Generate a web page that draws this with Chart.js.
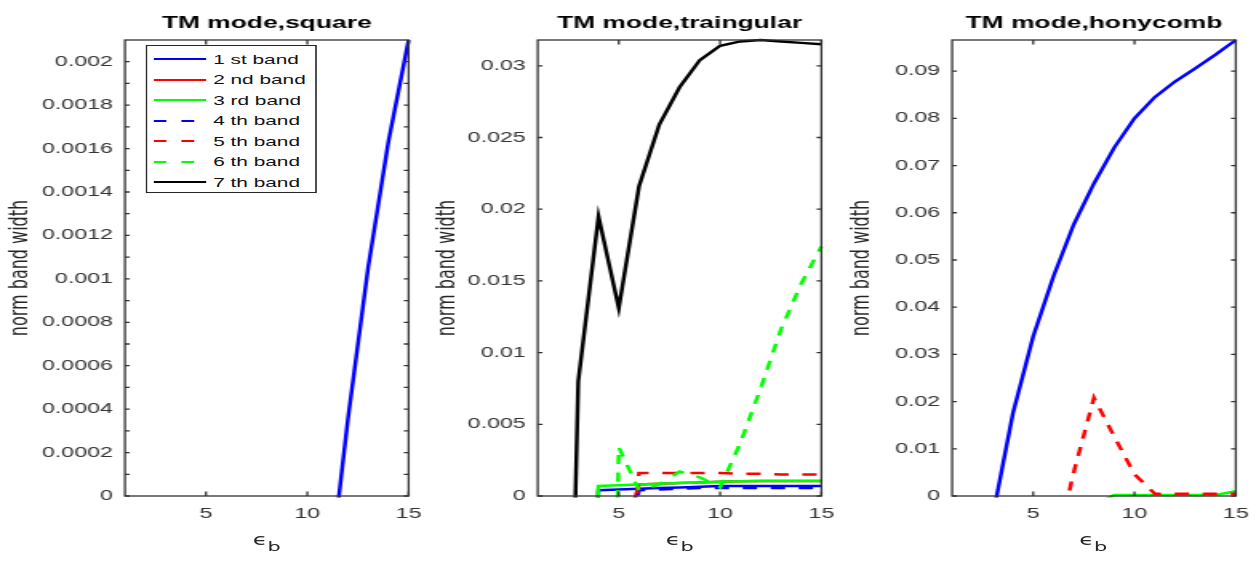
<!DOCTYPE html>
<html>
<head>
<meta charset="utf-8">
<script src="https://cdn.jsdelivr.net/npm/chart.js@4.4.0/dist/chart.umd.min.js"></script>
<style>
  html, body { margin: 0; padding: 0; background: #fff; overflow: hidden; }
  /* the figure is laid out narrow and stretched sideways, like the original export */
  #fig { position: absolute; left: 0; top: 0; width: 787.5px; height: 562px; transform: scaleX(1.6); transform-origin: 0 0; }
  #fig canvas { position: absolute; top: 0; }
  .xlab { position: absolute; top: 533px; width: 177.3px; text-align: center; font: 15px "DejaVu Sans"; color: #262626; line-height: 15px; }
  .xlab span { position: relative; top: 6px; font-size: 13px; }
  #legend { position: absolute; left: 91.25px; top: 45px; width: 106.25px; height: 147.7px; box-sizing: border-box;
            border: 1px solid #262626; background: #fff; }
  #legend .row { position: absolute; left: 4px; height: 20px; display: flex; align-items: center;
                 font: 13px "Liberation Sans"; color: #111; white-space: nowrap; }
  #legend .row span { margin-left: 4px; }
</style>
</head>
<body>
<div id="fig">
  <canvas id="c1" width="270" height="562" style="left:0px"></canvas>
  <canvas id="c2" width="270" height="562" style="left:258.15px"></canvas>
  <canvas id="c3" width="270" height="562" style="left:516.6px"></canvas>
  <div class="xlab" style="left:78.1px">ϵ<span>b</span></div>
  <div class="xlab" style="left:336.25px">ϵ<span>b</span></div>
  <div class="xlab" style="left:594.7px">ϵ<span>b</span></div>
  <div id="legend"></div>
</div>
<script>
// ---- data ----
const eps = [1, 2, 3, 4, 5, 6, 7, 8, 9, 10, 11, 12, 13, 14, 15];

const bandNames = ['1 st band', '2 nd band', '3 rd band', '4 th band', '5 th band', '6 th band', '7 th band'];
const bandColors = ['#0000ff', '#ff0000', '#00ff00', '#0000ff', '#ff0000', '#00ff00', '#000000'];
const bandDashed = [false, false, false, true, true, true, false];

// square lattice (negative = no gap, falls below the axis)
const sqBand1 = [null, null, null, null, null, null, null, null, null, null, -0.00045, 0.00035, 0.00105, 0.00163, 0.0021];
const sqBand2 = [];
const sqBand3 = [];
const sqBand4 = [];
const sqBand5 = [];
const sqBand6 = [];
const sqBand7 = [];

// triangular lattice
const triBand1 = [null, null, -0.02, 0.0004, 0.00045, 0.0005, 0.00055, 0.0006, 0.00065, 0.0007, 0.0007, 0.0007, 0.0007, 0.0007, 0.0007];
const triBand2 = [null, null, null, null, -0.004, 0.0008, 0.00085, 0.0009, 0.00095, 0.001, 0.00102, 0.00104, 0.00105, 0.00105, 0.00105];
const triBand3 = [null, null, -0.02, 0.0007, 0.00075, 0.0008, 0.00085, 0.0009, 0.00095, 0.001, 0.00102, 0.00104, 0.00105, 0.00105, 0.00105];
const triBand4 = [null, null, null, null, -0.006, 0.0004, 0.00045, 0.0005, 0.00055, 0.00055, 0.00055, 0.00055, 0.00055, 0.00055, 0.00055];
const triBand5 = [null, null, null, null, -0.012, 0.0016, 0.0016, 0.0016, 0.0016, 0.0016, 0.00155, 0.00155, 0.0015, 0.0015, 0.0015];
const triBand6 = [null, null, null, -0.06, 0.0034, 0.0004, 0.0008, 0.0017, 0.0013, 0.0006, 0.0037, 0.0075, 0.0116, 0.0148, 0.0174];
const triBand7 = [null, -0.05, 0.008, 0.0195, 0.0131, 0.0216, 0.0259, 0.0285, 0.0304, 0.0314, 0.0317, 0.0318, 0.0317, 0.0316, 0.0315];

// honeycomb lattice
const honBand1 = [null, null, -0.0044, 0.0175, 0.0338, 0.0465, 0.0575, 0.0662, 0.0738, 0.08, 0.0845, 0.0878, 0.0906, 0.0935, 0.0966];
const honBand2 = [];
const honBand3 = [null, null, null, null, null, null, null, -0.002, 0.0002, 0.0002, 0.0002, 0.0002, 0.0002, 0.0002, 0.001];
const honBand4 = [];
const honBand5 = [null, null, null, null, null, -0.0135, 0.005, 0.0208, 0.0126, 0.0046, 0.0005, 0.0005, 0.0005, 0.0005, 0.0005];
const honBand6 = [];
const honBand7 = [];

// ticks
const xTicks = [5, 10, 15];
const xLabels = ['5', '10', '15'];
const sqYTicks = [0, 0.0002, 0.0004, 0.0006, 0.0008, 0.001, 0.0012, 0.0014, 0.0016, 0.0018, 0.002];
const sqYLabels = ['0', '0.0002', '0.0004', '0.0006', '0.0008', '0.001', '0.0012', '0.0014', '0.0016', '0.0018', '0.002'];
const triYTicks = [0, 0.005, 0.01, 0.015, 0.02, 0.025, 0.03];
const triYLabels = ['0', '0.005', '0.01', '0.015', '0.02', '0.025', '0.03'];
const honYTicks = [0, 0.01, 0.02, 0.03, 0.04, 0.05, 0.06, 0.07, 0.08, 0.09];
const honYLabels = ['0', '0.01', '0.02', '0.03', '0.04', '0.05', '0.06', '0.07', '0.08', '0.09'];

const panels = [
  { id: 'c1', title: 'TM mode,square', yMax: 0.0021, yTicks: sqYTicks, yLabels: sqYLabels, minor: true, titlePad: 3.4,
    series: [sqBand1, sqBand2, sqBand3, sqBand4, sqBand5, sqBand6, sqBand7] },
  { id: 'c2', title: 'TM mode,traingular', yMax: 0.0318, yTicks: triYTicks, yLabels: triYLabels, minor: false, titlePad: 12.3,
    series: [triBand1, triBand2, triBand3, triBand4, triBand5, triBand6, triBand7] },
  { id: 'c3', title: 'TM mode,honycomb', yMax: 0.0966, yTicks: honYTicks, yLabels: honYLabels, minor: false, titlePad: 12.6,
    series: [honBand1, honBand2, honBand3, honBand4, honBand5, honBand6, honBand7] }
];

const axisColor = '#333333';
const tickFont = { family: 'Liberation Sans', size: 14.5 };

// matlab style box with inward ticks on all four sides
const boxAxes = {
  id: 'boxAxes',
  afterDatasetsDraw(chart, args, opts) {
    const { ctx, chartArea: a, scales: { x, y } } = chart;
    ctx.save();
    ctx.strokeStyle = axisColor;
    ctx.lineWidth = 1.3;
    ctx.strokeRect(a.left, a.top, a.right - a.left, a.bottom - a.top);
    ctx.beginPath();
    x.ticks.forEach(t => {
      const px = x.getPixelForValue(t.value);
      ctx.moveTo(px, a.bottom); ctx.lineTo(px, a.bottom - 4.5);
      ctx.moveTo(px, a.top); ctx.lineTo(px, a.top + 4.5);
    });
    const vals = y.ticks.map(t => t.value);
    let marks = vals.slice();
    if (opts.minor) marks = marks.concat(vals.slice(1).map((v, i) => (v + vals[i]) / 2));
    marks.forEach(v => {
      const py = y.getPixelForValue(v);
      ctx.moveTo(a.left, py); ctx.lineTo(a.left + 3, py);
      ctx.moveTo(a.right, py); ctx.lineTo(a.right - 3, py);
    });
    ctx.stroke();
    ctx.restore();
  }
};

panels.forEach(p => {
  new Chart(document.getElementById(p.id), {
    type: 'line',
    data: {
      datasets: bandNames.map((name, b) => ({
        label: name,
        data: p.series[b].map((v, i) => ({ x: eps[i], y: v })),
        borderColor: bandColors[b],
        backgroundColor: bandColors[b],
        borderWidth: 2.5,
        borderDash: bandDashed[b] ? [9, 8.5] : [],
        pointRadius: 0,
        tension: 0,
        order: 6 - b,
        clip: { left: 1, top: 2, right: 2, bottom: 1.5 }
      }))
    },
    options: {
      responsive: false,
      animation: false,
      devicePixelRatio: 1,
      layout: { padding: { left: 0, right: 14.6, top: 0, bottom: 0 } },
      plugins: {
        legend: { display: false },
        tooltip: { enabled: false },
        title: {
          display: true, text: p.title, fullSize: false, color: '#000',
          font: { family: 'Liberation Sans', size: 16.5, weight: 'bold' },
          padding: { top: 13.5, bottom: 6.7 }
        },
        boxAxes: { minor: p.minor }
      },
      scales: {
        x: {
          type: 'linear', min: 1, max: 15,
          grid: { display: false, drawTicks: false },
          border: { display: false },
          afterBuildTicks: s => { s.ticks = xTicks.map(v => ({ value: v })); },
          ticks: { autoSkip: false, maxRotation: 0, padding: 9, color: axisColor, font: tickFont,
                   callback: (v, i) => xLabels[i] },
          afterFit: s => { s.height = 66; s.paddingLeft = 0; s.paddingRight = 0; }
        },
        y: {
          type: 'linear', min: 0, max: p.yMax,
          grid: { display: false, drawTicks: false },
          border: { display: false },
          afterBuildTicks: s => { s.ticks = p.yTicks.map(v => ({ value: v })); },
          ticks: { autoSkip: false, padding: 7.5, color: axisColor, font: tickFont,
                   callback: (v, i) => p.yLabels[i] },
          title: { display: true, text: 'norm band width', color: '#262626',
                   font: { family: 'DejaVu Sans', size: 16 }, padding: { top: p.titlePad, bottom: 0 } },
          afterFit: s => { s.width = 78.1; s.paddingTop = 0; s.paddingBottom = 0; }
        }
      }
    },
    plugins: [boxAxes]
  });
});

// legend key for the first panel, built from the same band lists
const legendBox = document.getElementById('legend');
bandNames.forEach((name, b) => {
  const row = document.createElement('div');
  row.className = 'row';
  row.style.top = (3.3 + b * 20.45) + 'px';
  row.innerHTML = `<svg width="33" height="20"><line x1="0" y1="10" x2="33" y2="10" stroke="${bandColors[b]}" stroke-width="2.2"
    ${bandDashed[b] ? 'stroke-dasharray="8 9.4"' : ''}/></svg><span>${name}</span>`;
  legendBox.appendChild(row);
});
</script>
</body>
</html>
